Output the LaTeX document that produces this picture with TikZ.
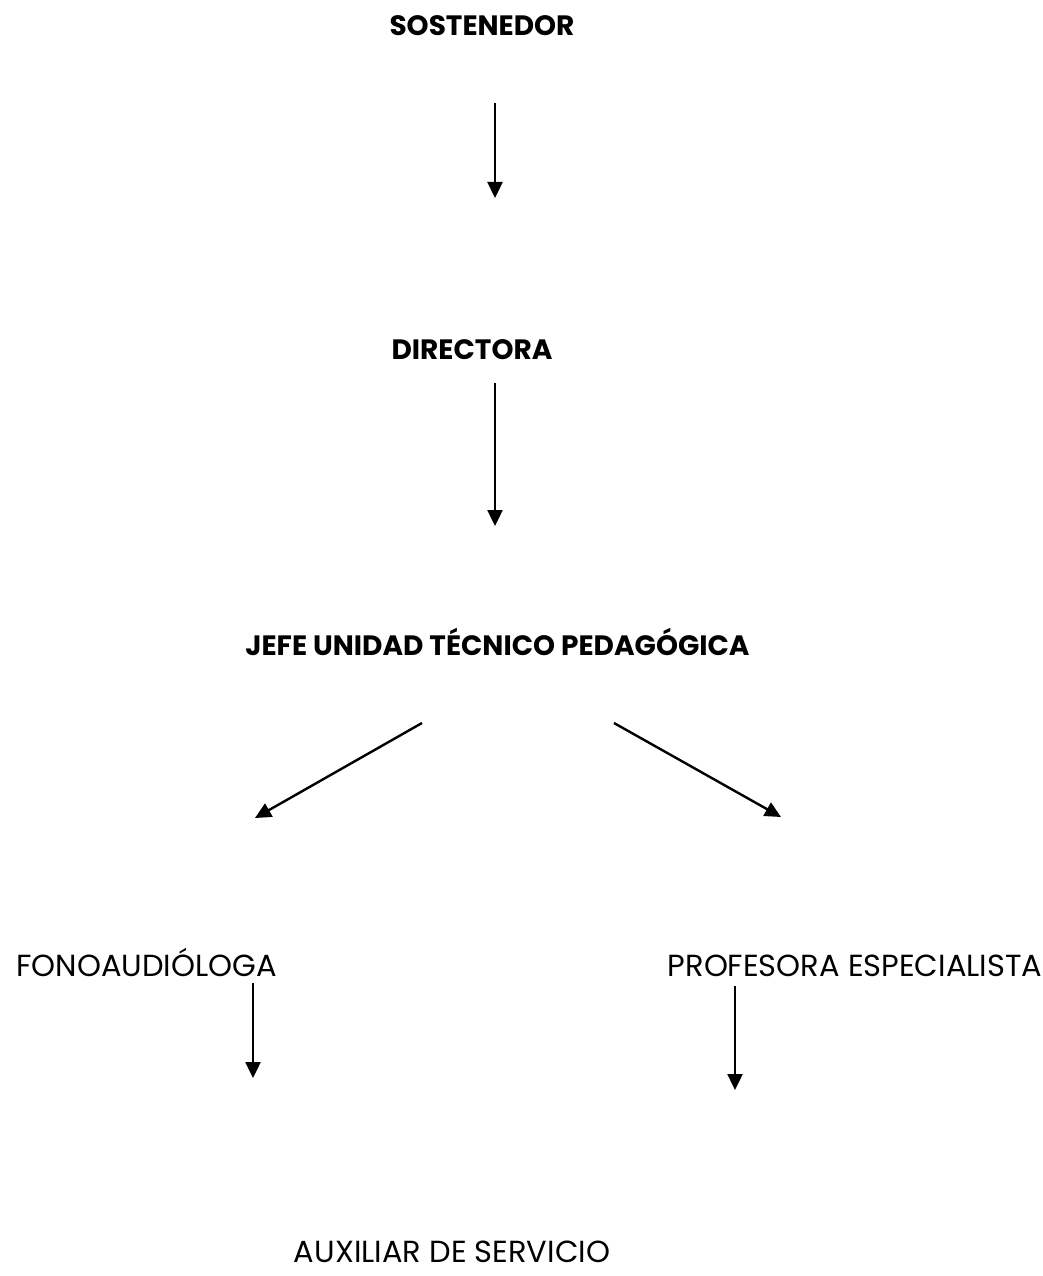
\documentclass[tikz,border=0pt]{standalone}
\usepackage{fontspec}
\setmainfont{Poppins}
\usetikzlibrary{arrows.meta}
\tikzset{
  boldlabel/.style={inner sep=0pt, anchor=base, font=\fontsize{28}{32}\selectfont\bfseries},
  plainlabel/.style={inner sep=0pt, anchor=base, font=\fontsize{30.5}{34}\selectfont},
  conn/.style={line width=2.4pt, -{Triangle[length=16pt,width=15pt]}}
}
\begin{document}
\begin{tikzpicture}[x=1pt,y=1pt]
\useasboundingbox (0,0) rectangle (1042,-1276);
\node[boldlabel] (sost) at (482,-36) {SOSTENEDOR};
\node[boldlabel] (dir) at (472,-359) {DIRECTORA};
\node[boldlabel] (jefe) at (497.5,-655) {JEFE UNIDAD TÉCNICO PEDAGÓGICA};
\node[plainlabel] (fono) at (146.5,-976) {FONOAUDIÓLOGA};
\node[plainlabel] (prof) at (855,-976) {PROFESORA ESPECIALISTA};
\node[plainlabel] (aux) at (452,-1262) {AUXILIAR DE SERVICIO};
\coordinate (a1s) at (495,-103);
\coordinate (a1e) at (495,-198);
\coordinate (a2s) at (495,-383);
\coordinate (a2e) at (495,-526);
\coordinate (a3s) at (422,-723);
\coordinate (a3e) at (255,-818);
\coordinate (a4s) at (614,-723);
\coordinate (a4e) at (781,-817);
\coordinate (a5s) at (253,-983);
\coordinate (a5e) at (253,-1078);
\coordinate (a6s) at (735,-986);
\coordinate (a6e) at (735,-1090);
\draw[conn] (a1s) -- (a1e);
\draw[conn] (a2s) -- (a2e);
\draw[conn] (a3s) -- (a3e);
\draw[conn] (a4s) -- (a4e);
\draw[conn] (a5s) -- (a5e);
\draw[conn] (a6s) -- (a6e);
\end{tikzpicture}
\end{document}
